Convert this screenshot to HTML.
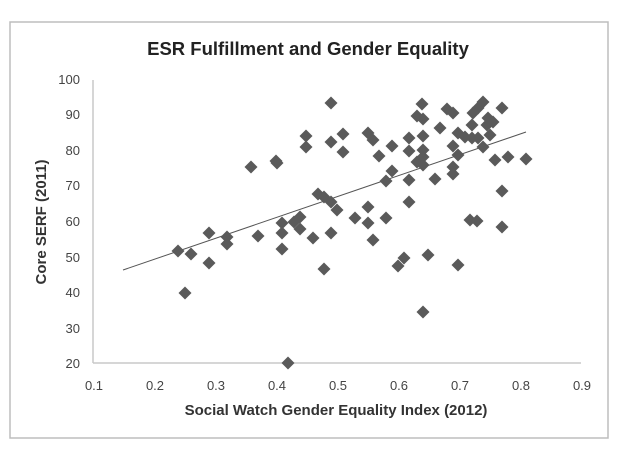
<!DOCTYPE html>
<html><head><style>
html,body{margin:0;padding:0;background:#fff;}
svg{display:block;}
text{font-family:"Liberation Sans",sans-serif;}
</style></head><body>
<svg width="617" height="462" xmlns="http://www.w3.org/2000/svg">
<rect x="10" y="22" width="598" height="416" fill="#fff" stroke="#bdbdbd" stroke-width="1.5"/>
<text x="308" y="55" text-anchor="middle" font-size="18.5" font-weight="bold" fill="#222">ESR Fulfillment and Gender Equality</text>
<line x1="93" y1="80" x2="93" y2="363" stroke="#c8c8c8" stroke-width="1.5"/>
<line x1="93" y1="363" x2="581" y2="363" stroke="#c8c8c8" stroke-width="1.5"/>
<g font-size="13" fill="#444" text-anchor="end">
<text x="80" y="368">20</text><text x="80" y="333">30</text><text x="80" y="297">40</text><text x="80" y="262">50</text><text x="80" y="226">60</text><text x="80" y="190">70</text><text x="80" y="155">80</text><text x="80" y="119">90</text><text x="80" y="84">100</text>
</g>
<g font-size="13" fill="#444" text-anchor="middle">
<text x="94" y="390">0.1</text><text x="155" y="390">0.2</text><text x="216" y="390">0.3</text><text x="277" y="390">0.4</text><text x="338" y="390">0.5</text><text x="399" y="390">0.6</text><text x="460" y="390">0.7</text><text x="521" y="390">0.8</text><text x="582" y="390">0.9</text>
</g>
<text x="336" y="415" text-anchor="middle" font-size="15" font-weight="bold" fill="#333">Social Watch Gender Equality Index (2012)</text>
<text transform="translate(46,222) rotate(-90)" text-anchor="middle" font-size="15" font-weight="bold" fill="#333">Core SERF (2011)</text>
<line x1="123" y1="270" x2="526" y2="132" stroke="#555" stroke-width="1"/>
<defs><path id="d" d="M0,-6.5L6.5,0L0,6.5L-6.5,0Z" fill="#5a5a5a"/></defs>
<g>
<use href="#d" x="331" y="103"/><use href="#d" x="306" y="136"/><use href="#d" x="343" y="134"/><use href="#d" x="331" y="142"/><use href="#d" x="306" y="147"/><use href="#d" x="343" y="152"/><use href="#d" x="251" y="167"/><use href="#d" x="276" y="161"/><use href="#d" x="277" y="163"/><use href="#d" x="318" y="194"/><use href="#d" x="324" y="197"/><use href="#d" x="331" y="202"/><use href="#d" x="337" y="210"/><use href="#d" x="355" y="218"/><use href="#d" x="300" y="217"/><use href="#d" x="294" y="222"/><use href="#d" x="282" y="223"/><use href="#d" x="300" y="229"/><use href="#d" x="282" y="233"/><use href="#d" x="331" y="233"/><use href="#d" x="313" y="238"/><use href="#d" x="258" y="236"/><use href="#d" x="227" y="237"/><use href="#d" x="227" y="244"/><use href="#d" x="209" y="233"/><use href="#d" x="282" y="249"/><use href="#d" x="178" y="251"/><use href="#d" x="191" y="254"/><use href="#d" x="209" y="263"/><use href="#d" x="324" y="269"/><use href="#d" x="185" y="293"/><use href="#d" x="288" y="363"/>
<use href="#d" x="422" y="104"/><use href="#d" x="417" y="116"/><use href="#d" x="423" y="119"/><use href="#d" x="447" y="109"/><use href="#d" x="453" y="113"/><use href="#d" x="502" y="108"/><use href="#d" x="483" y="102"/><use href="#d" x="478" y="108"/><use href="#d" x="473" y="113"/><use href="#d" x="488" y="118"/><use href="#d" x="493" y="122"/><use href="#d" x="487" y="125"/><use href="#d" x="472" y="125"/><use href="#d" x="490" y="135"/><use href="#d" x="440" y="128"/><use href="#d" x="368" y="133"/><use href="#d" x="373" y="140"/><use href="#d" x="409" y="138"/><use href="#d" x="423" y="136"/><use href="#d" x="458" y="133"/><use href="#d" x="465" y="137"/><use href="#d" x="472" y="138"/><use href="#d" x="478" y="138"/><use href="#d" x="379" y="156"/><use href="#d" x="392" y="146"/><use href="#d" x="409" y="151"/><use href="#d" x="423" y="150"/><use href="#d" x="453" y="146"/><use href="#d" x="483" y="147"/><use href="#d" x="423" y="157"/><use href="#d" x="417" y="162"/><use href="#d" x="423" y="165"/><use href="#d" x="458" y="155"/><use href="#d" x="495" y="160"/><use href="#d" x="508" y="157"/><use href="#d" x="526" y="159"/><use href="#d" x="392" y="171"/><use href="#d" x="386" y="181"/><use href="#d" x="409" y="180"/><use href="#d" x="435" y="179"/><use href="#d" x="453" y="167"/><use href="#d" x="453" y="174"/><use href="#d" x="502" y="191"/><use href="#d" x="409" y="202"/><use href="#d" x="368" y="207"/><use href="#d" x="368" y="223"/><use href="#d" x="386" y="218"/><use href="#d" x="373" y="240"/><use href="#d" x="470" y="220"/><use href="#d" x="477" y="221"/><use href="#d" x="502" y="227"/><use href="#d" x="404" y="258"/><use href="#d" x="398" y="266"/><use href="#d" x="428" y="255"/><use href="#d" x="458" y="265"/><use href="#d" x="423" y="312"/>
</g>
</svg>
</body></html>
